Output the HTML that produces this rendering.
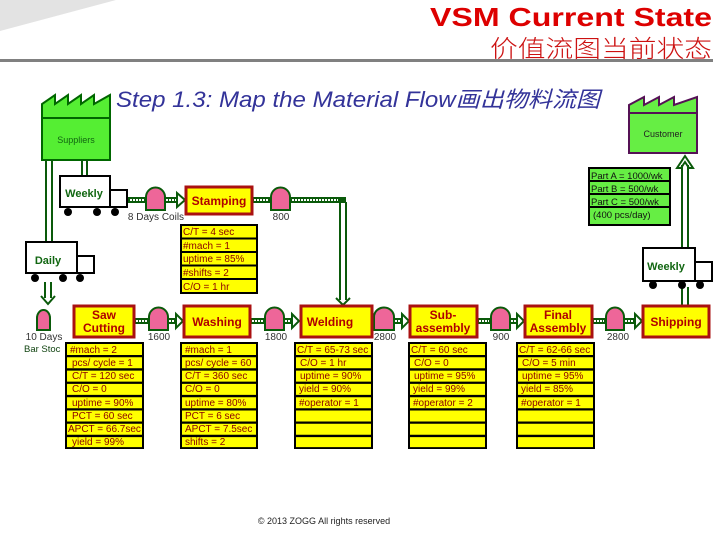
<!DOCTYPE html>
<html><head><meta charset="utf-8"><style>
body{margin:0;background:#fff;}
svg{display:block;}
text{font-family:"Liberation Sans","Noto Sans CJK SC",sans-serif;}
.dt{font-size:10px;fill:#8b0000;}
.pt{font-size:12px;font-weight:bold;fill:#b00000;text-anchor:middle;}
.lb{font-size:10px;fill:#333;text-anchor:middle;}
</style></head><body>
<svg width="720" height="540" viewBox="0 0 720 540" xmlns="http://www.w3.org/2000/svg">
<polygon points="0,0 116,0 0,31" fill="#e3e3e3"/>
<rect x="0" y="59" width="713" height="3" fill="#808080"/>
<text x="430" y="26" font-size="26" font-weight="bold" fill="#dd0000" textLength="282" lengthAdjust="spacingAndGlyphs">VSM Current State</text>
<text x="490" y="57" font-size="24" fill="#cc1111" textLength="222" lengthAdjust="spacingAndGlyphs" style="font-family:'Noto Sans CJK SC',sans-serif;font-weight:300">价值流图当前状态</text>
<text x="116" y="107" font-size="22" font-style="italic" fill="#333399" textLength="484" lengthAdjust="spacingAndGlyphs">Step 1.3: Map the Material Flow画出物料流图</text>

<!-- Suppliers -->
<polygon points="42,118 42,104 55,95 55,104 68,95 68,104 81,95 81,104 94,95 94,104 110,95 110,118" fill="#55ee33" stroke="#006600" stroke-width="2"/>
<rect x="42" y="118" width="68" height="42" fill="#55ee33" stroke="#006600" stroke-width="2"/>
<text x="76" y="143" font-size="9" fill="#116611" text-anchor="middle">Suppliers</text>
<!-- Customer -->
<polygon points="629,113 629,105 644,97 644,105 659,97 659,105 674,97 674,105 697,97 697,113" fill="#66ee44" stroke="#551155" stroke-width="2"/>
<rect x="629" y="113" width="68" height="40" fill="#66ee44" stroke="#551155" stroke-width="2"/>
<text x="663" y="137" font-size="9" fill="#222" text-anchor="middle">Customer</text>

<g stroke="#0a5a0a" stroke-width="2" fill="none">
<line x1="46" y1="160" x2="46" y2="242"/><line x1="52" y1="160" x2="52" y2="242"/>
<line x1="82" y1="160" x2="82" y2="176"/><line x1="87" y1="160" x2="87" y2="176"/>
<line x1="45" y1="282" x2="45" y2="298"/><line x1="51" y1="282" x2="51" y2="298"/>
<polyline points="41,296 48,304 55,296"/>
<line x1="682" y1="165" x2="682" y2="248"/><line x1="688" y1="165" x2="688" y2="248"/>
<polygon points="677,168 685,156 693,168 689,168 685,162 681,168"/>
<line x1="682" y1="287" x2="682" y2="305"/><line x1="688" y1="287" x2="688" y2="305"/>
<line x1="340" y1="202" x2="340" y2="300"/><line x1="346" y1="202" x2="346" y2="300"/>
<polyline points="336,298 343,305 350,298"/>
</g>

<g>
<g stroke="#0a5a0a" stroke-width="6"><line x1="128" y1="200" x2="146" y2="200"/><line x1="165" y1="200" x2="178" y2="200"/>
<line x1="252" y1="200" x2="271" y2="200"/><line x1="290" y1="200" x2="346" y2="200"/>
<line x1="134" y1="321" x2="149" y2="321"/><line x1="168" y1="321" x2="176" y2="321"/>
<line x1="250" y1="321" x2="265" y2="321"/><line x1="284" y1="321" x2="292" y2="321"/>
<line x1="372" y1="321" x2="374" y2="321"/><line x1="394" y1="321" x2="402" y2="321"/>
<line x1="477" y1="321" x2="491" y2="321"/><line x1="510" y1="321" x2="517" y2="321"/>
<line x1="592" y1="321" x2="606" y2="321"/><line x1="624" y1="321" x2="635" y2="321"/>
</g>
<g stroke="#fff" stroke-width="2" stroke-dasharray="2,1"><line x1="130" y1="200" x2="144" y2="200"/><line x1="166" y1="200" x2="176" y2="200"/>
<line x1="254" y1="200" x2="269" y2="200"/><line x1="292" y1="200" x2="338" y2="200"/>
<line x1="136" y1="321" x2="147" y2="321"/><line x1="169" y1="321" x2="175" y2="321"/>
<line x1="252" y1="321" x2="263" y2="321"/><line x1="285" y1="321" x2="291" y2="321"/>
<line x1="395" y1="321" x2="401" y2="321"/><line x1="479" y1="321" x2="489" y2="321"/>
<line x1="511" y1="321" x2="516" y2="321"/><line x1="594" y1="321" x2="604" y2="321"/>
<line x1="625" y1="321" x2="634" y2="321"/></g>
<g fill="#fff" stroke="#0a5a0a" stroke-width="2">
<polygon points="177,193 185,200 177,207"/>
<polygon points="176,314 183,321 176,328"/><polygon points="292,314 299,321 292,328"/>
<polygon points="402,314 409,321 402,328"/><polygon points="517,314 524,321 517,328"/>
<polygon points="635,314 642,321 635,328"/>
</g>
</g>

<g fill="#ee6699" stroke="#0a5a0a" stroke-width="2">
<path d="M146,210 V197 A9.5,9.5 0 0 1 165,197 V210 Z"/>
<path d="M271,210 V197 A9.5,9.5 0 0 1 290,197 V210 Z"/>
<path d="M37,330 V318 A6.5,8 0 0 1 50,318 V330 Z"/>
<path d="M149,330 V317 A9.5,9.5 0 0 1 168,317 V330 Z"/>
<path d="M265,330 V317 A9.5,9.5 0 0 1 284,317 V330 Z"/>
<path d="M374,330 V317 A10,9.5 0 0 1 394,317 V330 Z"/>
<path d="M491,330 V317 A9.5,9.5 0 0 1 510,317 V330 Z"/>
<path d="M606,330 V317 A9,9.5 0 0 1 624,317 V330 Z"/>
</g>
<text x="156" y="220" class="lb" font-size="9.5">8 Days Coils</text>
<text x="281" y="220" class="lb" font-size="9.5">800</text>
<text x="44" y="340" class="lb" font-size="9.5">10 Days</text>
<text x="24" y="352" font-size="9.5" fill="#114411">Bar Stoc</text>
<text x="159" y="340" class="lb" font-size="9.5">1600</text>
<text x="276" y="340" class="lb" font-size="9.5">1800</text>
<text x="385" y="340" class="lb" font-size="9.5">2800</text>
<text x="501" y="340" class="lb" font-size="9.5">900</text>
<text x="618" y="340" class="lb" font-size="9.5">2800</text>

<g stroke="#000" stroke-width="2" fill="#fff">
<rect x="60" y="176" width="50" height="31"/><rect x="110" y="190" width="17" height="17"/>
<rect x="26" y="242" width="51" height="31"/><rect x="77" y="256" width="17" height="17"/>
<rect x="643" y="248" width="52" height="33"/><rect x="695" y="262" width="17" height="19"/>
</g>
<g fill="#000">
<circle cx="68" cy="212" r="4"/><circle cx="97" cy="212" r="4"/><circle cx="115" cy="212" r="4"/>
<circle cx="35" cy="278" r="4"/><circle cx="63" cy="278" r="4"/><circle cx="80" cy="278" r="4"/>
<circle cx="653" cy="285" r="4"/><circle cx="682" cy="285" r="4"/><circle cx="700" cy="285" r="4"/>
</g>
<text x="84" y="197" font-size="11" font-weight="bold" fill="#116611" text-anchor="middle">Weekly</text>
<text x="48" y="264" font-size="11" font-weight="bold" fill="#116611" text-anchor="middle">Daily</text>
<text x="666" y="270" font-size="11" font-weight="bold" fill="#116611" text-anchor="middle">Weekly</text>

<g fill="#ffff00" stroke="#aa1111" stroke-width="3">
<rect x="186" y="187" width="66" height="27"/>
<rect x="74" y="306" width="60" height="31"/>
<rect x="184" y="306" width="66" height="31"/>
<rect x="301" y="306" width="71" height="31"/>
<rect x="410" y="306" width="67" height="31"/>
<rect x="525" y="306" width="67" height="31"/>
<rect x="643" y="306" width="66" height="31"/>
</g>
<text x="219" y="205" class="pt">Stamping</text>
<text x="104" y="319" class="pt">Saw</text><text x="104" y="332" class="pt">Cutting</text>
<text x="217" y="326" class="pt">Washing</text>
<text x="330" y="326" class="pt">Welding</text>
<text x="443" y="319" class="pt">Sub-</text><text x="443" y="332" class="pt">assembly</text>
<text x="558" y="319" class="pt">Final</text><text x="558" y="332" class="pt">Assembly</text>
<text x="676" y="326" class="pt">Shipping</text>

<rect x="180" y="224" width="78" height="70" fill="#000"/>
<g fill="#ffff00">
<rect x="182" y="226" width="74" height="11.5"/><rect x="182" y="239.5" width="74" height="11.5"/><rect x="182" y="253" width="74" height="11.5"/><rect x="182" y="266.5" width="74" height="11.5"/><rect x="182" y="280" width="74" height="12"/>
</g>
<text class="dt" x="183" y="235">C/T = 4 sec</text><text class="dt" x="183" y="249">#mach = 1</text><text class="dt" x="183" y="262">uptime = 85%</text><text class="dt" x="183" y="276">#shifts = 2</text><text class="dt" x="183" y="290">C/O = 1 hr</text>

<rect x="588" y="167" width="83" height="59" fill="#000"/>
<g fill="#66ee44">
<rect x="590" y="169" width="79" height="11"/><rect x="590" y="182" width="79" height="11"/><rect x="590" y="195" width="79" height="11"/><rect x="590" y="208" width="79" height="16"/>
</g>
<g font-size="9.5" fill="#111"><text x="591" y="179">Part A = 1000/wk</text><text x="591" y="192">Part B = 500/wk</text><text x="591" y="205">Part C = 500/wk</text><text x="593" y="218">(400 pcs/day)</text></g>

<rect x="65" y="342" width="79" height="107" fill="#000"/>
<rect x="180" y="342" width="78" height="107" fill="#000"/>
<rect x="294" y="342" width="79" height="107" fill="#000"/>
<rect x="408" y="342" width="79" height="107" fill="#000"/>
<rect x="516" y="342" width="79" height="107" fill="#000"/>
<g fill="#ffff00">
<path d="M67,344h75v11h-75z M67,357.3h75v11h-75z M67,370.6h75v11h-75z M67,383.9h75v11h-75z M67,397.2h75v11h-75z M67,410.5h75v11h-75z M67,423.8h75v11h-75z M67,437.1h75v10h-75z"/>
<path d="M182,344h74v11h-74z M182,357.3h74v11h-74z M182,370.6h74v11h-74z M182,383.9h74v11h-74z M182,397.2h74v11h-74z M182,410.5h74v11h-74z M182,423.8h74v11h-74z M182,437.1h74v10h-74z"/>
<path d="M296,344h75v11h-75z M296,357.3h75v11h-75z M296,370.6h75v11h-75z M296,383.9h75v11h-75z M296,397.2h75v11h-75z M296,410.5h75v11h-75z M296,423.8h75v11h-75z M296,437.1h75v10h-75z"/>
<path d="M410,344h75v11h-75z M410,357.3h75v11h-75z M410,370.6h75v11h-75z M410,383.9h75v11h-75z M410,397.2h75v11h-75z M410,410.5h75v11h-75z M410,423.8h75v11h-75z M410,437.1h75v10h-75z"/>
<path d="M518,344h75v11h-75z M518,357.3h75v11h-75z M518,370.6h75v11h-75z M518,383.9h75v11h-75z M518,397.2h75v11h-75z M518,410.5h75v11h-75z M518,423.8h75v11h-75z M518,437.1h75v10h-75z"/>
</g>
<g>
<text class="dt" x="70" y="353">#mach = 2</text><text class="dt" x="72" y="366">pcs/ cycle = 1</text><text class="dt" x="72" y="379">C/T = 120 sec</text><text class="dt" x="72" y="392">C/O = 0</text><text class="dt" x="72" y="406">uptime = 90%</text><text class="dt" x="72" y="419">PCT = 60 sec</text><text class="dt" x="68" y="432">APCT = 66.7sec</text><text class="dt" x="72" y="445">yield = 99%</text>
<text class="dt" x="185" y="353">#mach = 1</text><text class="dt" x="185" y="366">pcs/ cycle = 60</text><text class="dt" x="185" y="379">C/T = 360 sec</text><text class="dt" x="185" y="392">C/O = 0</text><text class="dt" x="185" y="406">uptime = 80%</text><text class="dt" x="185" y="419">PCT = 6 sec</text><text class="dt" x="185" y="432">APCT = 7.5sec</text><text class="dt" x="185" y="445">shifts = 2</text>
<text class="dt" x="297" y="353">C/T = 65-73 sec</text><text class="dt" x="300" y="366">C/O = 1 hr</text><text class="dt" x="300" y="379">uptime = 90%</text><text class="dt" x="299" y="392">yield = 90%</text><text class="dt" x="299" y="406">#operator = 1</text>
<text class="dt" x="411" y="353">C/T = 60 sec</text><text class="dt" x="414" y="366">C/O = 0</text><text class="dt" x="414" y="379">uptime = 95%</text><text class="dt" x="413" y="392">yield = 99%</text><text class="dt" x="413" y="406">#operator = 2</text>
<text class="dt" x="519" y="353">C/T = 62-66 sec</text><text class="dt" x="522" y="366">C/O = 5 min</text><text class="dt" x="522" y="379">uptime = 95%</text><text class="dt" x="521" y="392">yield = 85%</text><text class="dt" x="521" y="406">#operator = 1</text>
</g>
<text x="324" y="524" text-anchor="middle" font-size="9" fill="#222">© 2013 ZOGG All rights reserved</text>
</svg>
</body></html>
